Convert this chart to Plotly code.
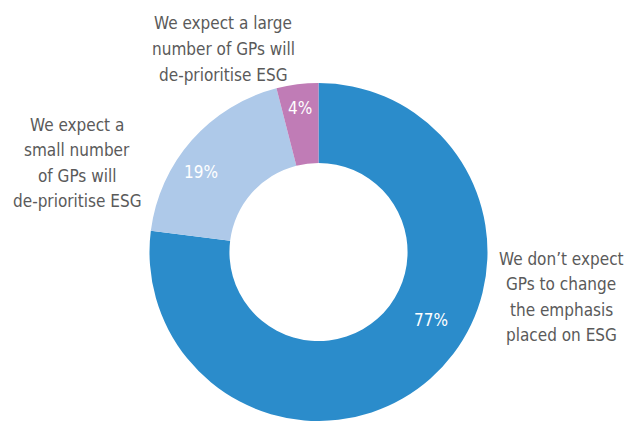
import plotly.graph_objects as go

# Survey responses: expected change in GP emphasis on ESG
categories = [
    "We don\u2019t expect<br>GPs to change<br>the emphasis<br>placed on ESG",
    "We expect a<br>small number<br>of GPs will<br>de-prioritise ESG",
    "We expect a large<br>number of GPs will<br>de-prioritise ESG",
]
values = [77, 19, 4]
colors = ["#2B8CCB", "#AEC9E9", "#C07CB6"]

W, H = 634, 421
FONT = "DejaVu Sans Condensed, Liberation Sans Narrow, sans-serif"
LINE_GAP = 25.5  # pixel spacing between label lines

def px(x, y):
    """Convert pixel position (from top-left) to paper coordinates."""
    return x / W, 1 - y / H

# donut placement (pixels)
cx, cy, R = 318.5, 252.0, 169.0

fig = go.Figure(
    go.Pie(
        labels=[c.replace("<br>", " ") for c in categories],
        values=values,
        marker=dict(colors=colors, line=dict(width=0)),
        hole=0.527,
        sort=False,
        direction="clockwise",
        rotation=0,
        textinfo="none",
        hoverinfo="label+percent",
        showlegend=False,
        domain=dict(x=[(cx - R) / W, (cx + R) / W], y=[0, 2 * R / H]),
    )
)

# value labels inside slices
value_pos = [(431, 320), (201, 172), (300, 108)]
# category label centres around the donut
cat_pos = [(561, 297), (77, 163), (223, 49)]

annotations = []
for v, (x, y) in zip(values, value_pos):
    ax, ay = px(x, y)
    annotations.append(dict(
        x=ax, y=ay, xref="paper", yref="paper", showarrow=False,
        text=f"{v}%", font=dict(family=FONT, size=17, color="white"),
        xanchor="center", yanchor="middle",
    ))
for c, (x, y) in zip(categories, cat_pos):
    lines = c.split("<br>")
    top = y - LINE_GAP * (len(lines) - 1) / 2
    for i, line in enumerate(lines):
        ax, ay = px(x, top + i * LINE_GAP)
        annotations.append(dict(
            x=ax, y=ay, xref="paper", yref="paper", showarrow=False,
            text=line, font=dict(family=FONT, size=17, color="#5a5a5a"),
            xanchor="center", yanchor="middle", align="center",
        ))

fig.update_layout(
    width=W, height=H,
    margin=dict(l=0, r=0, t=0, b=0),
    paper_bgcolor="white", plot_bgcolor="white",
    annotations=annotations,
)

fig.write_html("out.html")
